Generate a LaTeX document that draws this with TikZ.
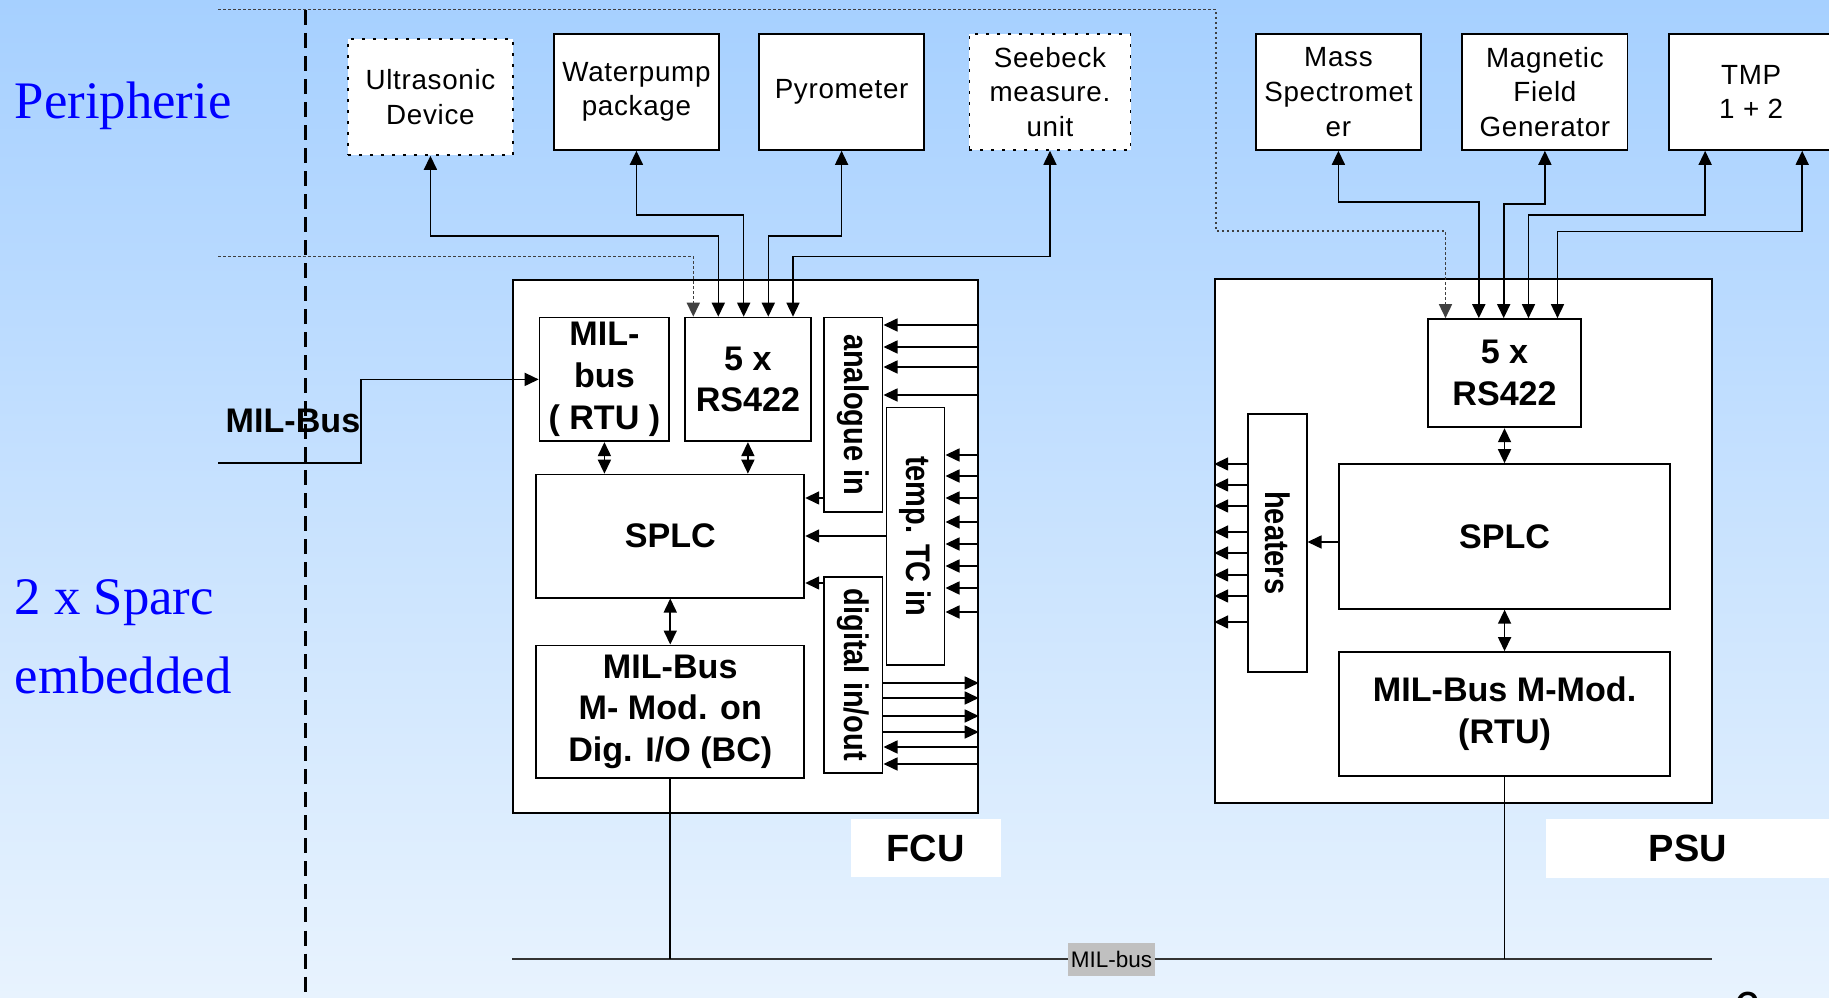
\documentclass[tikz,border=0pt]{standalone}
\usepackage{fontspec}
\setmainfont{Liberation Sans}
\newfontfamily\serifrm{Liberation Serif}
\newfontfamily\spacedsf[LetterSpace=2.5]{Liberation Sans}
\newfontfamily\narrowsf[FakeStretch=0.85]{Liberation Sans}
\usepackage{graphicx}
\usepackage{tikz}
\usetikzlibrary{positioning,arrows.meta}
\definecolor{bgtop}{RGB}{166,208,255}
\definecolor{bgbot}{RGB}{232,243,254}
\definecolor{busgray}{RGB}{192,192,192}

\begin{document}
\begin{tikzpicture}[x=0.01cm, y=-0.01cm,
          >={Triangle[length=0.14cm,width=0.13cm]},
          peri/.style={draw, fill=white, line width=0.5pt, minimum width=1.65cm,
              minimum height=1.16cm, inner sep=0pt, align=center,
              font=\spacedsf\fontsize{7.9pt}{9.9pt}\selectfont},
          dotbox/.style={dash pattern=on 0.03cm off 0.08cm},
          unit/.style={draw, fill=white, line width=0.5pt, inner sep=0pt, anchor=north west},
          blk/.style={draw, fill=white, line width=0.5pt, inner sep=0pt, align=center,
              font=\bfseries\fontsize{9.7pt}{11.9pt}\selectfont},
          vblk/.style={blk, font=\narrowsf\bfseries\fontsize{9.7pt}{11pt}\selectfont},
          lbl/.style={fill=white, inner sep=0pt, anchor=north west,
              font=\bfseries\fontsize{10.8pt}{12pt}\selectfont},
          bluetxt/.style={text=blue, inner sep=0pt, align=left,
              font=\serifrm\fontsize{15pt}{22.4pt}\selectfont},
          arr/.style={->, line width=0.45pt},
          biarr/.style={<->, line width=0.45pt},
          dots/.style={line width=0.45pt, black!75, dash pattern=on 0.025cm off 0.025cm}
        ]
        \useasboundingbox (0,0) rectangle (1829,998);
        \shade[top color=bgtop, bottom color=bgbot] (0,0) rectangle (1829,998);

        % left side
        \node[bluetxt, anchor=west] (perilbl) at (14,106) {Peripherie};
        \node[bluetxt, anchor=west] (sparc) at (14,637) {2 x Sparc\\embedded};

        % peripherals
        \node[peri, dotbox, anchor=north west] (ultra) at (347,38) {Ultrasonic\\Device};
        \node[peri, anchor=north west] (pump) at (553,33) {Waterpump\\package};
        \node[peri, right=0.383cm of pump] (pyro) {Pyrometer};
        \node[peri, dotbox, right=0.435cm of pyro, minimum width=1.61cm] (seebeck) {Seebeck\\measure.\\unit};
        \node[peri, anchor=north west] (mass) at (1255,33) {Mass\\Spectromet\\er};
        \node[peri, right=0.396cm of mass] (magnet) {Magnetic\\Field\\Generator};
        \node[peri, right=0.394cm of magnet] (tmp) {TMP\\1 + 2};

        % FCU
        \node[unit, minimum width=4.647cm, minimum height=5.324cm] (fcu) at (512,279.3) {};
        \node[blk, anchor=north west, minimum width=1.296cm, minimum height=1.236cm] (rtu) at (538.7,316.7) {MIL-\\bus\\( RTU )};
        \node[blk, right=0.137cm of rtu, minimum width=1.263cm, minimum height=1.236cm] (rs) {5 x\\RS422};
        \node[vblk, anchor=north west, minimum width=0.584cm, minimum height=1.94cm] (ana) at (823.3,316.7) {\rotatebox{-90}{analogue in}};
        \node[vblk, anchor=north west, minimum width=0.58cm, minimum height=2.573cm] (tc) at (885.7,406.7) {\rotatebox{-90}{temp. TC in}};
        \node[vblk, anchor=north west, minimum width=0.584cm, minimum height=1.957cm] (dig) at (823.3,576) {\rotatebox{-90}{digital in/out}};
        \node[blk, anchor=north west, minimum width=2.68cm, minimum height=1.23cm] (splc) at (535.3,473.7) {SPLC};
        \node[blk, below=0.46cm of splc, minimum width=2.68cm, minimum height=1.326cm] (mmod) {MIL-Bus\\M- Mod. on\\Dig. I/O (BC)};

        % PSU
        \node[unit, minimum width=4.963cm, minimum height=5.239cm] (psu) at (1214.2,277.9) {};
        \node[blk, anchor=north west, minimum width=1.536cm, minimum height=1.082cm] (prs) at (1426.8,318.2) {5 x\\RS422};
        \node[blk, anchor=north west, minimum width=3.304cm, minimum height=1.447cm] (psplc) at (1338.4,463.2) {SPLC};
        \node[blk, below=0.414cm of psplc, minimum width=3.304cm, minimum height=1.239cm] (pmod) {MIL-Bus M-Mod.\\(RTU)};
        \node[vblk, anchor=north west, minimum width=0.585cm, minimum height=2.578cm] (heat) at (1247.2,412.9) {\rotatebox{-90}{heaters}};

        \node[lbl, minimum width=1.5cm, minimum height=0.587cm] (fculbl) at (850,818) {FCU};
        \node[lbl, minimum width=2.84cm, minimum height=0.59cm] (psulbl) at (1545,818) {PSU};
        \node[font=\bfseries\fontsize{9.7pt}{11.9pt}\selectfont, inner sep=0pt] (milbus) at (293,421) {MIL-Bus};

        % MIL-Bus in
        \coordinate (busin) at (218,463);
        \draw[arr] (busin) -- ++(143,0) |- (rtu.west);

        % peripherals <-> FCU
        \draw[dots, ->] (218,256.5) -| (rs.north -| 693.3,0);
        \draw[biarr] (ultra.south) |- (718.3,236) -- (rs.north -| 718.3,0);
        \draw[biarr] (pump.south) |- (743.7,215.3) -- (rs.north -| 743.7,0);
        \draw[biarr] (pyro.south) |- (768.3,236) -- (rs.north -| 768.3,0);
        \draw[biarr] (seebeck.south) |- (793,256.7) -- (rs.north -| 793,0);

        % peripherals <-> PSU
        \draw[dots, ->] (218,9.5) -- (1216,9.5) -- (1216,231) -| (prs.north -| 1445.5,0);
        \draw[biarr] (mass.south) |- (1478.8,202) -- (prs.north -| 1478.8,0);
        \draw[biarr] (magnet.south) |- (1503.7,204) -- (prs.north -| 1503.7,0);
        \draw[biarr] ([xshift=-0.46cm]tmp.south) |- (1528.5,215.3) -- (prs.north -| 1528.5,0);
        \draw[biarr] ([xshift=0.51cm]tmp.south) |- (1557.5,231.7) -- (prs.north -| 1557.5,0);

        % inside FCU
        \draw[biarr] (rtu.south) -- (rtu.south |- splc.north);
        \draw[biarr] (rs.south) -- (rs.south |- splc.north);
        \draw[biarr] (splc.south) -- (mmod.north);
        \draw[arr] (ana.west |- 0,498) -- (splc.east |- 0,498);
        \draw[arr] (tc.west |- 0,536) -- (splc.east |- 0,536);
        \draw[arr] (dig.west |- 0,583) -- (splc.east |- 0,583);
        \foreach \y in {325,347,367,395}
          \draw[arr] (fcu.east |- 0,\y) -- (ana.east |- 0,\y);
        \foreach \y in {455,476,498,522,544,566,588,612}
          \draw[arr] (fcu.east |- 0,\y) -- (tc.east |- 0,\y);
        \foreach \y in {683,698,716,732}
          \draw[arr] (dig.east |- 0,\y) -- (fcu.east |- 0,\y);
        \foreach \y in {747,764}
          \draw[arr] (fcu.east |- 0,\y) -- (dig.east |- 0,\y);

        % inside PSU
        \draw[biarr] (prs.south) -- (prs.south |- psplc.north);
        \draw[biarr] (psplc.south) -- (pmod.north);
        \draw[arr] (psplc.west |- 0,542) -- (heat.east |- 0,542);
        \foreach \y in {464,485,506,532,553,575,596,622}
          \draw[arr] (heat.west |- 0,\y) -- (psu.west |- 0,\y);

        % MIL-bus
        \coordinate (busw) at (512,959);
        \coordinate (buse) at (1712,959);
        \draw[line width=0.6pt, black!80] (busw) -- (buse);
        \draw[line width=0.45pt] (mmod.south) -- (mmod.south |- busw);
        \draw[line width=0.45pt] (pmod.south) -- (pmod.south |- busw);
        \node[fill=busgray, inner sep=0pt, minimum width=0.87cm, minimum height=0.33cm,
            font=\fontsize{6.4pt}{7pt}\selectfont] (buslbl) at (1111.4,959.4) {MIL-bus};

        % separator
        \draw[line width=0.8pt, dash pattern=on 0.15cm off 0.08cm] (305.7,10) -- (305.7,998);

        \node[anchor=north west, inner sep=0pt, font=\fontsize{14pt}{14pt}\selectfont] (pagenum) at (1733,991) {6};
      \end{tikzpicture}
\end{document}
